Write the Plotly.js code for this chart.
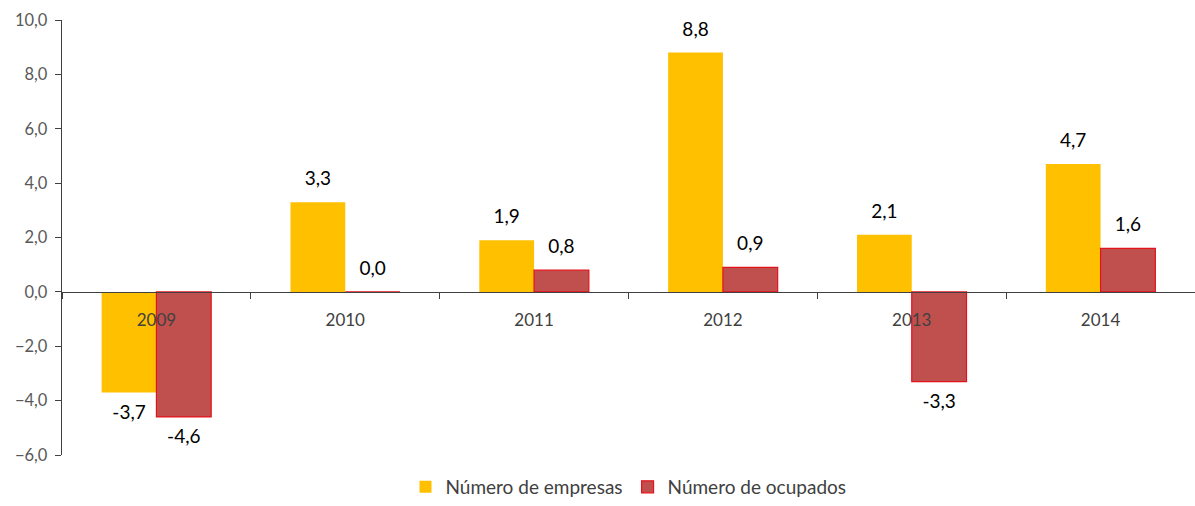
<!DOCTYPE html>
<html>
<head>
<meta charset="utf-8">
<script src="https://cdn.plot.ly/plotly-3.0.1.min.js"></script>
<style>html,body{margin:0;padding:0;background:#fff;}#chart{width:1195px;height:506px;}</style>
</head>
<body>
<div id="chart"></div>
<script>
var years = ['2009', '2010', '2011', '2012', '2013', '2014'];
var empresas = [-3.7, 3.3, 1.9, 8.8, 2.1, 4.7];
var ocupados = [-4.6, 0.0, 0.8, 0.9, -3.3, 1.6];
var seriesNames = ['Número de empresas', 'Número de ocupados'];
var yMin = -6, yMax = 10;

var fontFam = 'Lato, "Open Sans", sans-serif';
var labelFont = {family: fontFam, size: 19, color: '#000000'};

function labelPos(vals) {
  return vals.map(function (v) { return v < 0 ? 'bottom center' : 'top center'; });
}
function labelText(vals) {
  return vals.map(function (v) { return v.toFixed(1).replace('.', ','); });
}

var traces = [
  {
    type: 'bar', name: seriesNames[0], x: years, y: empresas,
    marker: {color: '#FFC000', line: {width: 0}},
    hoverinfo: 'x+y'
  },
  {
    type: 'bar', name: seriesNames[1], x: years, y: ocupados,
    marker: {color: '#C0504D', line: {width: 1.2, color: '#E3121B'}},
    hoverinfo: 'x+y'
  },
  {
    type: 'scatter', mode: 'markers+text', x: years, y: empresas, showlegend: false,
    text: labelText(empresas), textposition: labelPos(empresas), textfont: labelFont,
    marker: {size: 18, opacity: 0}, cliponaxis: false, hoverinfo: 'skip'
  },
  {
    type: 'scatter', mode: 'markers+text', x: years, y: ocupados, showlegend: false,
    text: labelText(ocupados), textposition: labelPos(ocupados), textfont: labelFont,
    marker: {size: 18, opacity: 0}, cliponaxis: false, hoverinfo: 'skip'
  }
];

var layout = {
  width: 1195, height: 506,
  margin: {l: 62, r: 0, t: 20, b: 51},
  paper_bgcolor: '#ffffff', plot_bgcolor: '#ffffff',
  separators: ',.',
  barmode: 'group', bargap: 0.42, bargroupgap: 0,
  scattermode: 'group', scattergap: 0.42,
  font: {family: fontFam, size: 16, color: '#404040'},
  showlegend: true,
  legend: {
    orientation: 'h', x: 0.5, xanchor: 'center', y: -51 / 435, yanchor: 'bottom',
    font: {family: fontFam, size: 19, color: '#404040'}, traceorder: 'normal'
  },
  xaxis: {
    type: 'category', anchor: 'free', position: (0 - yMin) / (yMax - yMin),
    showline: true, linecolor: '#404040', linewidth: 1.3,
    ticks: 'outside', tickson: 'boundaries', ticklen: 6, tickcolor: '#404040', tickwidth: 1,
    ticklabelstandoff: 12,
    tickfont: {family: fontFam, size: 17, color: '#404040'},
    showgrid: false, zeroline: false, fixedrange: true, automargin: false
  },
  yaxis: {
    range: [yMin, yMax], dtick: 2, tick0: 0, tickformat: '.1f',
    showline: true, linecolor: '#404040', linewidth: 1.3,
    ticks: 'outside', ticklen: 6, tickcolor: '#404040', ticklabelstandoff: 4,
    tickfont: {family: fontFam, size: 16.5, color: '#595959'},
    showgrid: false, zeroline: false, fixedrange: true, automargin: false
  }
};

Plotly.newPlot('chart', traces, layout, {displayModeBar: false, staticPlot: true});
</script>
</body>
</html>
